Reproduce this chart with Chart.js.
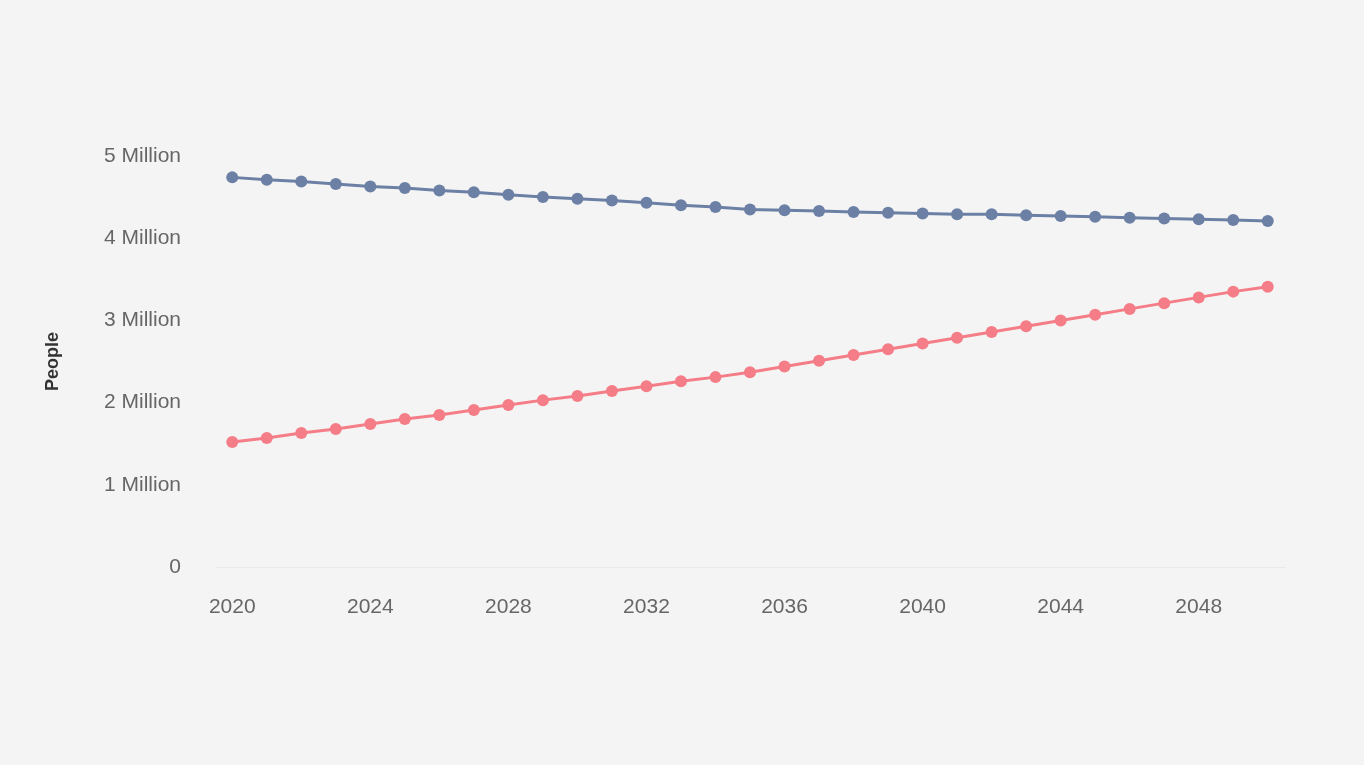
<!DOCTYPE html>
<html>
<head>
<meta charset="utf-8">
<script src="https://cdn.jsdelivr.net/npm/chart.js@4/dist/chart.umd.min.js"></script>
<style>
  html, body { margin: 0; padding: 0; background: #f4f4f4; }
  #wrap { position: relative; width: 1364px; height: 765px; background: #f4f4f4; }
</style>
</head>
<body>
<div id="wrap"><canvas id="c"></canvas></div>
<script>
const years = [2020,2021,2022,2023,2024,2025,2026,2027,2028,2029,2030,2031,2032,2033,2034,2035,2036,2037,2038,2039,2040,2041,2042,2043,2044,2045,2046,2047,2048,2049,2050];
const seriesBlue = [4.74,4.71,4.69,4.66,4.63,4.61,4.58,4.56,4.53,4.50,4.48,4.46,4.43,4.40,4.38,4.35,4.34,4.33,4.32,4.31,4.30,4.29,4.29,4.28,4.27,4.26,4.25,4.24,4.23,4.22,4.21];
const seriesRed = [1.52,1.57,1.63,1.68,1.74,1.80,1.85,1.91,1.97,2.03,2.08,2.14,2.20,2.26,2.31,2.37,2.44,2.51,2.58,2.65,2.72,2.79,2.86,2.93,3.00,3.07,3.14,3.21,3.28,3.35,3.41];
const yTickLabels = ['0','1 Million','2 Million','3 Million','4 Million','5 Million'];
const yTitle = 'People';

const blue = 'rgb(108,128,165)';
const red = 'rgb(244,125,135)';
const font = { family: 'Liberation Sans, Arial, sans-serif', size: 21 };

new Chart(document.getElementById('c'), {
  type: 'line',
  data: {
    labels: years.map(String),
    datasets: [
      { label: 'A', data: seriesBlue, borderColor: blue, backgroundColor: blue, borderWidth: 3, pointRadius: 6, pointHoverRadius: 6, pointBorderWidth: 0, tension: 0 },
      { label: 'B', data: seriesRed, borderColor: red, backgroundColor: red, borderWidth: 3, pointRadius: 6, pointHoverRadius: 6, pointBorderWidth: 0, tension: 0 }
    ]
  },
  options: {
    responsive: true,
    maintainAspectRatio: false,
    animation: false,
    layout: { padding: { left: 38, right: 79, top: 156, bottom: 138 } },
    plugins: { legend: { display: false }, tooltip: { enabled: false }, title: { display: false } },
    scales: {
      x: {
        offset: true,
        grid: { display: false, drawTicks: false },
        border: { display: true, color: 'rgba(0,0,0,0.04)' },
        ticks: {
          autoSkip: false, maxRotation: 0, padding: 28, color: '#666', font: font,
          callback: function(v, i) { return i % 4 === 0 ? this.getLabelForValue(v) : ''; }
        },
        afterFit: (a) => { a.height = 60; }
      },
      y: {
        min: 0, max: 5,
        grid: { display: false, drawTicks: false },
        border: { display: false },
        ticks: {
          stepSize: 1, padding: 34, color: '#666', font: font,
          callback: (v) => yTickLabels[v]
        },
        title: { display: true, text: yTitle, color: '#333', font: { family: font.family, size: 18, weight: 'bold' } },
        afterFit: (a) => { a.width = 177; }
      }
    }
  }
});
</script>
</body>
</html>
